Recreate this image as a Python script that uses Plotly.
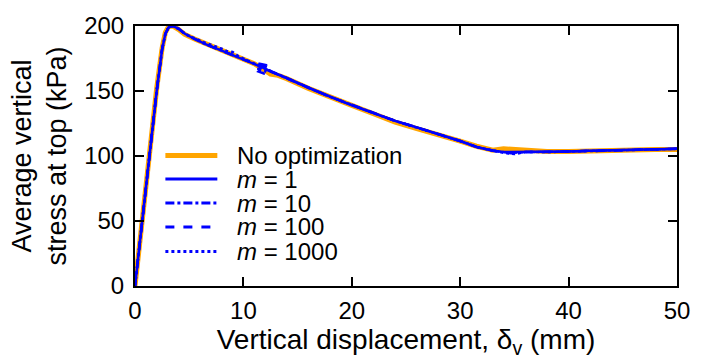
import plotly.graph_objects as go

# Data
x_no = [0, 0.5, 1, 1.5, 2, 2.5, 2.8, 3.1, 3.5, 4, 4.6, 5.5, 6.5, 8, 9.5, 11, 11.8, 12.5, 13.2, 14, 16, 18, 20, 22, 24, 26, 28, 30, 31.5, 33, 34, 35, 36, 38, 40, 42, 44, 46, 48, 50]
y_no = [0, 40, 79, 117, 152, 183, 195, 199.5, 200, 197.5, 193.5, 190, 186.5, 181, 176, 171, 167, 163, 162, 159.5, 152, 145, 139, 132.5, 126, 121, 116.5, 111.5, 107.5, 104.5, 105.5, 105, 104, 103.5, 103.5, 104, 104.5, 104.5, 105, 105]

x_m1 = [0, 0.5, 1, 1.5, 2, 2.5, 2.8, 3.1, 3.5, 4, 4.6, 5.5, 6.5, 8, 9.5, 11, 11.8, 12.5, 14, 16, 18, 20, 22, 24, 26, 28, 30, 31.5, 33, 34, 35, 36, 38, 40, 42, 44, 46, 48, 50]
y_m1 = [0, 38, 77, 115, 150, 182, 194, 199, 200, 198, 194, 190, 186, 181, 176, 171, 168, 165, 160, 152.5, 145.5, 139, 133, 127, 122, 117, 111.5, 107, 104, 103, 103, 103, 103, 103.5, 104, 104.5, 104.5, 105, 105.5]

x_m10 = [0, 0.5, 1, 1.5, 2, 2.5, 2.8, 3.1, 3.5, 4, 4.6, 5.5, 6.5, 8, 9.5, 11, 11.6, 12.2, 12.0, 11.3, 11.7, 12.5, 14, 16, 18, 20, 22, 24, 26, 28, 30, 31.5, 33, 34, 35, 36, 38, 40, 42, 44, 46, 48, 50]
y_m10 = [0, 38, 77, 115, 150, 182, 194, 199, 200, 198, 194, 190, 186, 181, 176, 171, 170, 168, 165, 167, 168, 165, 160, 152.5, 145.5, 139.5, 133, 127, 122, 117, 111.5, 107, 104, 103, 102.5, 103, 103, 103.5, 104, 104.5, 104.5, 105, 105.5]

x_m100 = [0, 0.5, 1, 1.5, 2, 2.5, 2.8, 3.1, 3.5, 4, 4.6, 5.5, 6.5, 8, 9.5, 11, 11.5, 12.1, 12.3, 11.9, 11.4, 11.8, 12.6, 14, 16, 18, 20, 22, 24, 26, 28, 30, 31.5, 33, 34, 35, 36, 38, 40, 42, 44, 46, 48, 50]
y_m100 = [0, 38, 77, 115, 150, 182, 194, 199, 200, 198, 194, 190, 186, 181, 176, 171, 171, 170, 167, 163.5, 165, 168, 165, 160, 152.5, 145.5, 139.5, 133, 127, 122, 117, 111.5, 107, 104, 102.5, 102, 103, 103, 103.5, 104, 104.5, 104.5, 105, 105.5]

x_m1000 = [0, 0.5, 1, 1.5, 2, 2.5, 2.8, 3.1, 3.5, 4, 4.6, 5.5, 6.5, 8, 8.5, 9, 9.5, 11, 11.8, 12.5, 14, 16, 18, 20, 22, 24, 26, 28, 30, 31.5, 33, 34, 35, 35.5, 36, 38, 40, 42, 44, 46, 48, 50]
y_m1000 = [0, 38, 77, 115, 150, 182, 194, 199, 200, 198, 194, 190.5, 187, 182.5, 180.5, 180, 177, 171, 168, 165, 160, 152.5, 145.5, 139, 133, 127, 122, 117, 111.5, 107, 104, 102.5, 101.5, 102, 103, 103, 103.5, 104, 104.5, 104.5, 105, 105.5]

series_names = ["No optimization", "<i>m</i> = 1", "<i>m</i> = 10", "<i>m</i> = 100", "<i>m</i> = 1000"]
series_x = [x_no, x_m1, x_m10, x_m100, x_m1000]
series_y = [y_no, y_m1, y_m10, y_m100, y_m1000]

ORANGE = "#FFA500"
BLUE = "#0000FF"
series_colors = [ORANGE, BLUE, BLUE, BLUE, BLUE]
series_dash = ["solid", "solid", "dashdot", "dash", "dot"]
series_width = [5, 2.5, 2.5, 2.5, 2.5]
legend_width = [5, 3, 3, 3, 3]
FONT = "Liberation Sans, Arial, sans-serif"

W, H = 702, 362
ML, MR, MT, MB = 135, 14, 15, 76
PW, PH = W - ML - MR, H - MT - MB

fig = go.Figure()
for xs, ys, nm, c, d, w in zip(series_x, series_y, series_names, series_colors, series_dash, series_width):
    fig.add_trace(go.Scatter(x=xs, y=ys, mode="lines", name=nm, showlegend=False,
                             line=dict(color=c, width=w, dash=d)))

# manual legend (compact row spacing like the reference)
leg_x0, leg_x1, leg_tx = 166, 219, 237
leg_rows = [150, 174.5, 199.5, 224.5, 250]
for nm, c, d, w, py in zip(series_names, series_colors, series_dash, legend_width, leg_rows):
    yp = (H - MB - py) / PH
    fig.add_shape(type="line", xref="paper", yref="paper",
                  x0=(leg_x0 - ML) / PW, x1=(leg_x1 - ML) / PW, y0=yp, y1=yp,
                  line=dict(color=c, width=w, dash=d))
    fig.add_annotation(xref="paper", yref="paper", x=(leg_tx - ML) / PW, y=yp,
                       xanchor="left", yanchor="middle", text=nm, showarrow=False,
                       font=dict(family=FONT, size=24, color="black"))

axis_common = dict(showgrid=False, zeroline=False, showline=True, linecolor="black",
                   linewidth=2, mirror="ticks", ticks="inside", ticklen=9, tickwidth=2,
                   tickcolor="black", tickfont=dict(family=FONT, size=24, color="black"))

fig.update_layout(
    width=W, height=H,
    margin=dict(l=ML, r=MR, t=MT, b=MB),
    paper_bgcolor="white", plot_bgcolor="white",
    font=dict(family=FONT, color="black"),
    showlegend=False,
    xaxis=dict(range=[0, 50], tickvals=[0, 10, 20, 30, 40, 50], ticklabelstandoff=2,
               title=dict(text="Vertical displacement, δ<sub>v</sub> (mm)",
                          font=dict(family=FONT, size=28, color="black"), standoff=3),
               **axis_common),
    yaxis=dict(range=[0, 200], tickvals=[0, 50, 100, 150, 200], ticklabelstandoff=4,
               title=dict(text="Average vertical<br>stress at top (kPa)",
                          font=dict(family=FONT, size=27, color="black"), standoff=10),
               **axis_common),
)

fig.write_html("out.html")
